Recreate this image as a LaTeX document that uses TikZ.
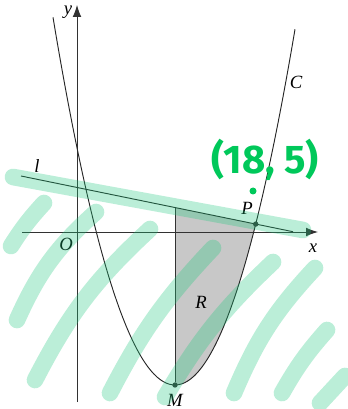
\documentclass[tikz,border=0pt]{standalone}
\usepackage{fontspec}
\setmainfont{Liberation Serif}
\newfontfamily\handfont{Fira Sans}
\usetikzlibrary{arrows.meta}
\definecolor{axisgrey}{RGB}{50,50,50}
\definecolor{regiongrey}{RGB}{200,200,200}
\definecolor{markgreen}{RGB}{0,200,90}
\definecolor{hatchgreen}{RGB}{30,200,125}

\begin{document}
\begin{tikzpicture}[x=0.75pt, y=-0.75pt,
    axis/.style={draw=axisgrey, line width=0.6pt, -{Latex[length=9pt,width=6.5pt]}},
    curve/.style={draw=black!85, line width=0.7pt},
    lbl/.style={font=\fontsize{14}{16}\selectfont\itshape, inner sep=0pt},
    pnt/.style={circle, fill=axisgrey, inner sep=0pt, minimum size=4pt},
    hl/.style={draw=hatchgreen, line width=12.5pt, line cap=round, opacity=0.3},
    note/.style={text=markgreen, inner sep=0pt, font=\handfont\bfseries\fontsize{30}{32}\selectfont}
  ]
    \useasboundingbox (0,0) rectangle (347,409);

    % shaded region R
    \fill[regiongrey] (175,207.6) -- (255.7,224.1)
      -- plot[domain=255.7:175, samples=30, smooth] (\x,{385-0.0247*(\x-175)*(\x-175)}) -- cycle;

    % axes
    \coordinate (xstart) at (22,232);
    \coordinate (xend) at (318,232);
    \coordinate (ystart) at (77,402);
    \coordinate (yend) at (77,5);
    \draw[axis] (xstart) -- (xend);
    \draw[axis] (ystart) -- (yend);

    % curve C and line l
    \draw[curve] plot[domain=53:295, samples=80, smooth] (\x,{385-0.0247*(\x-175)*(\x-175)});
    \coordinate (lstart) at (21,176);
    \coordinate (lend) at (293,231.7);
    \coordinate (top) at (175,207.6);
    \draw[curve] (lstart) -- (lend);

    \node[pnt] (M) at (175,385) {};
    \node[pnt] (P) at (255.7,224.1) {};
    \draw[curve, draw=axisgrey] (M) -- (top);

    % labels
    \node[lbl] (ylbl) at (68,12) {y};
    \node[lbl] (xlbl) at (313,248) {x};
    \node[lbl] (olbl) at (66,244) {O};
    \node[lbl] (llbl) at (37,166) {l};
    \node[lbl] (clbl) at (296,82) {C};
    \node[lbl] (plbl) at (247,208) {P};
    \node[lbl] (mlbl) at (175,400) {M};
    \node[lbl] (rlbl) at (201,302) {R};

    % green marks
    \draw[hl] (13,177) -- (303,230);
    \draw[hl] (11,246) to[bend left=5] (44,203);
    \draw[hl] (17,320) to[bend left=12] (96,212);
    \draw[hl] (35,380) to[bend left=10] (150,229);
    \draw[hl] (110,393) to[bend left=8] (213,248);
    \draw[hl] (165,397) to[bend left=8] (273,262);
    \draw[hl] (234,393) to[bend left=10] (315,268);
    \draw[hl] (282,393) to[bend left=6] (327,330);
    \draw[hl] (320,403) -- (345,376);

    \node[note] (coords) at (265,160) {(18, 5)};
    \fill[markgreen] (253,191) circle (3.5);
\end{tikzpicture}
\end{document}
